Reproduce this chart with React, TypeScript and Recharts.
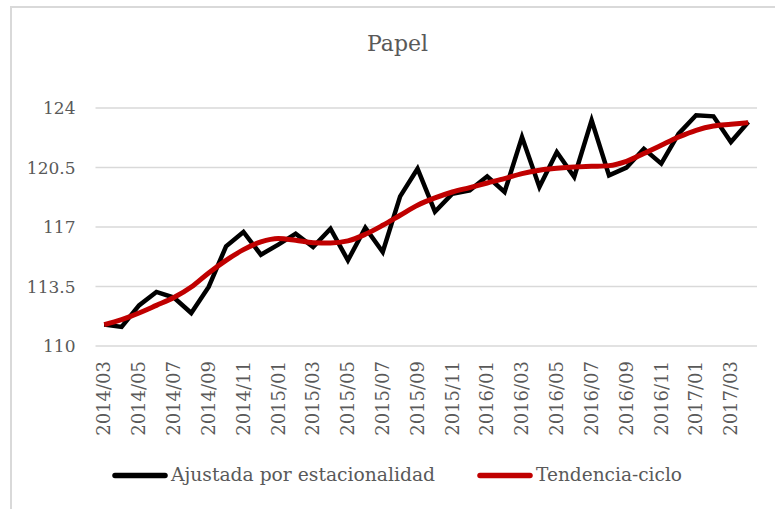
import React from 'react'
import { LineChart, Line, XAxis, YAxis, CartesianGrid } from 'recharts'

const months = [
  '2014/03', '2014/04', '2014/05', '2014/06', '2014/07', '2014/08', '2014/09', '2014/10', '2014/11', '2014/12',
  '2015/01', '2015/02', '2015/03', '2015/04', '2015/05', '2015/06', '2015/07', '2015/08', '2015/09', '2015/10',
  '2015/11', '2015/12', '2016/01', '2016/02', '2016/03', '2016/04', '2016/05', '2016/06', '2016/07', '2016/08',
  '2016/09', '2016/10', '2016/11', '2016/12', '2017/01', '2017/02', '2017/03', '2017/04',
]

const ajustada = [
  111.26, 111.12, 112.39, 113.18, 112.85, 111.94, 113.47, 115.86, 116.71, 115.37,
  115.96, 116.61, 115.82, 116.9, 115.04, 116.96, 115.53, 118.8, 120.43, 117.9,
  118.96, 119.16, 119.98, 119.06, 122.29, 119.35, 121.41, 119.94, 123.28, 120.04,
  120.49, 121.6, 120.73, 122.49, 123.57, 123.51, 122.0, 123.18,
]

const tendencia = [
  111.26, 111.55, 111.94, 112.39, 112.85, 113.47, 114.3, 115.04, 115.67, 116.12,
  116.32, 116.22, 116.08, 116.06, 116.18, 116.57, 117.1, 117.69, 118.28, 118.71,
  119.06, 119.32, 119.59, 119.85, 120.14, 120.34, 120.45, 120.53, 120.57, 120.61,
  120.86, 121.32, 121.81, 122.29, 122.69, 122.94, 123.04, 123.14,
]

const yTicks = [110, 113.5, 117, 120.5, 124]

const series = [
  { key: 'ajustada', name: 'Ajustada por estacionalidad', color: '#000000', width: 4.5, type: 'linear' as const },
  { key: 'tendencia', name: 'Tendencia-ciclo', color: '#C00000', width: 5, type: 'monotone' as const },
]

const data = months.map((m, i) => ({ month: m, ajustada: ajustada[i], tendencia: tendencia[i] }))

const FONT = "'DejaVu Serif', serif"
const TEXT = '#595959'
const GRID = '#d9d9d9'

function MonthTick(props: any) {
  const { x, y, payload } = props
  const ty = y + 7
  return (
    <text
      x={x}
      y={ty}
      dy="0.35em"
      textAnchor="end"
      transform={`rotate(-90, ${x}, ${ty})`}
      fill={TEXT}
      style={{ fontFamily: FONT, fontSize: 18 }}
    >
      {payload.value}
    </text>
  )
}

export default function App() {
  return (
    <div style={{ position: 'absolute', left: 0, top: 0, width: 775, height: 509, background: '#fff', overflow: 'hidden', fontFamily: FONT }}>
      <div
        style={{
          position: 'absolute',
          left: 10,
          top: 6,
          width: 800,
          height: 600,
          borderLeft: `2px solid ${GRID}`,
          borderTop: `2px solid ${GRID}`,
        }}
      />
      <LineChart width={775} height={509} data={data} margin={{ top: 108, right: 18, left: 0, bottom: 63 }}>
        <CartesianGrid vertical={false} stroke={GRID} strokeWidth={1.5} />
        <XAxis
          dataKey="month"
          interval={1}
          axisLine={false}
          tickLine={false}
          height={100}
          padding={{ left: 8.7, right: 8.7 }}
          tick={<MonthTick />}
        />
        <YAxis
          domain={[110, 124]}
          ticks={yTicks}
          width={95.5}
          axisLine={false}
          tickLine={false}
          tickMargin={14}
          tick={{ fill: TEXT, fontSize: 17, style: { fontFamily: FONT } }}
        />
        {series.map((s) => (
          <Line
            key={s.key}
            type={s.type}
            dataKey={s.key}
            name={s.name}
            stroke={s.color}
            strokeWidth={s.width}
            dot={false}
            isAnimationActive={false}
          />
        ))}
      </LineChart>
      <svg width={775} height={509} style={{ position: 'absolute', left: 0, top: 0, pointerEvents: 'none' }}>
        <text x={397.5} y={51} textAnchor="middle" fill={TEXT} style={{ fontFamily: FONT, fontSize: 22 }}>
          Papel
        </text>
        {series.map((s, i) => {
          const x0 = i === 0 ? 113 : 478
          return (
            <g key={s.key}>
              <line x1={x0 + 2} x2={x0 + 52} y1={475.5} y2={475.5} stroke={s.color} strokeWidth={5.5} strokeLinecap="round" />
              <text x={x0 + 58} y={481} fill={TEXT} textLength={i === 0 ? 264 : 146} lengthAdjust="spacingAndGlyphs" style={{ fontFamily: FONT, fontSize: 19 }}>
                {s.name}
              </text>
            </g>
          )
        })}
      </svg>
    </div>
  )
}
